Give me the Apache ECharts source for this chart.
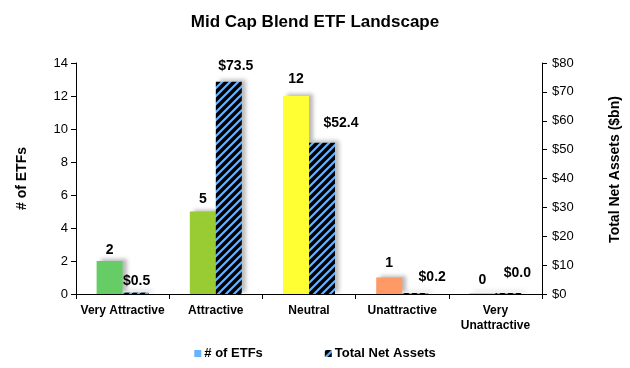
<!DOCTYPE html>
<html>
<head>
<meta charset="utf-8">
<script src="https://cdn.jsdelivr.net/npm/echarts@6/dist/echarts.min.js"></script>
<style>html,body{margin:0;padding:0;background:#fff}#c{width:630px;height:368px}</style>
</head>
<body>
<div id="c"></div>
<script>
var categories = ['Very Attractive', 'Attractive', 'Neutral', 'Unattractive', 'Very\nUnattractive'];
var etfCounts = [2, 5, 12, 1, 0];
var totalNetAssets = [0.5, 73.5, 52.4, 0.2, 0.0];
var etfColors = ['#66cc66', '#99cc33', '#ffff33', '#ff9966', '#c8c8c8'];
var etfLabelOffsets = [[0, 1], [0, 0], [0, -5], [0, -2], [0, -1]];
var tnaLabelOffsets = [[1, 1], [7, -4], [19, -8], [17, -4], [9, -8]];

var FONT = '"Liberation Sans", Arial, sans-serif';

function makeHatch() {
  var c = document.createElement('canvas');
  c.width = 8; c.height = 8;
  var g = c.getContext('2d');
  g.fillStyle = '#000';
  g.fillRect(0, 0, 8, 8);
  g.strokeStyle = '#66b3ff';
  g.lineWidth = 2.2;
  g.beginPath();
  g.moveTo(-1, 9); g.lineTo(9, -1);
  g.moveTo(-5, 5); g.lineTo(5, -5);
  g.moveTo(3, 13); g.lineTo(13, 3);
  g.stroke();
  return c;
}
var hatch = makeHatch();

var shadow = {
  shadowColor: 'rgba(0,0,0,0.28)',
  shadowBlur: 4,
  shadowOffsetX: 4,
  shadowOffsetY: -2
};

var chart = echarts.init(document.getElementById('c'), null, {renderer: 'canvas'});
chart.setOption({
  animation: false,
  title: {
    text: 'Mid Cap Blend ETF Landscape',
    left: 'center',
    top: 9,
    textStyle: {fontFamily: FONT, fontSize: 17, fontWeight: 'bold', color: '#000'}
  },
  legend: {
    bottom: 3,
    left: 'center',
    itemWidth: 7,
    itemHeight: 7,
    itemGap: 62,
    icon: 'rect',
    textStyle: {fontFamily: FONT, fontSize: 13, fontWeight: 'bold', color: '#000', padding: [0, 0, 0, -2]},
    data: ['# of ETFs', 'Total Net Assets']
  },
  grid: {left: 76, right: 87, top: 63, bottom: 74, containLabel: false},
  xAxis: {
    type: 'category',
    data: categories,
    boundaryGap: true,
    axisLine: {lineStyle: {color: '#000', width: 1}},
    axisTick: {show: true, alignWithLabel: false, length: 5, lineStyle: {color: '#000'}},
    axisLabel: {interval: 0, margin: 9, fontFamily: FONT, fontSize: 12, fontWeight: 'bold', color: '#000', lineHeight: 15}
  },
  yAxis: [
    {
      type: 'value', min: 0, max: 14, interval: 2,
      name: '# of ETFs', nameLocation: 'middle', nameGap: 47,
      nameTextStyle: {fontFamily: FONT, fontSize: 14, fontWeight: 'bold', color: '#000'},
      axisLine: {show: true, lineStyle: {color: '#000'}},
      axisTick: {show: true, length: 5, lineStyle: {color: '#000'}},
      splitLine: {show: false},
      axisLabel: {margin: 8, fontFamily: FONT, fontSize: 13, color: '#000'}
    },
    {
      type: 'value', min: 0, max: 80, interval: 10, position: 'right',
      name: 'Total Net Assets ($bn)', nameLocation: 'middle', nameGap: 66,
      nameTextStyle: {fontFamily: FONT, fontSize: 14, fontWeight: 'bold', color: '#000', padding: [0, 0, 0, 18]},
      axisLine: {show: true, lineStyle: {color: '#000'}},
      axisTick: {show: true, length: 5, lineStyle: {color: '#000'}},
      splitLine: {show: false},
      axisLabel: {margin: 10, fontFamily: FONT, fontSize: 13, color: '#000', formatter: function (v) { return '$' + v; }}
    }
  ],
  series: [
    {
      name: '# of ETFs',
      type: 'bar',
      yAxisIndex: 0,
      barWidth: 26,
      barGap: '0%',
      barMinHeight: 1,
      itemStyle: Object.assign({color: '#66b3ff'}, shadow),
      data: etfCounts.map(function (v, i) {
        return {
          value: v,
          itemStyle: {color: etfColors[i]},
          label: {offset: etfLabelOffsets[i]}
        };
      }),
      label: {
        show: true, position: 'top', distance: 5,
        fontFamily: FONT, fontSize: 14, fontWeight: 'bold', color: '#000'
      }
    },
    {
      name: 'Total Net Assets',
      type: 'bar',
      yAxisIndex: 1,
      barWidth: 26,
      barMinHeight: 1,
      itemStyle: Object.assign({color: {image: hatch, repeat: 'repeat'}}, shadow),
      data: totalNetAssets.map(function (v, i) {
        return {value: v, label: {offset: tnaLabelOffsets[i]}};
      }),
      label: {
        show: true, position: 'top', distance: 5,
        fontFamily: FONT, fontSize: 14, fontWeight: 'bold', color: '#000',
        formatter: function (p) { return '$' + p.value.toFixed(1); }
      }
    }
  ]
});
</script>
</body>
</html>
